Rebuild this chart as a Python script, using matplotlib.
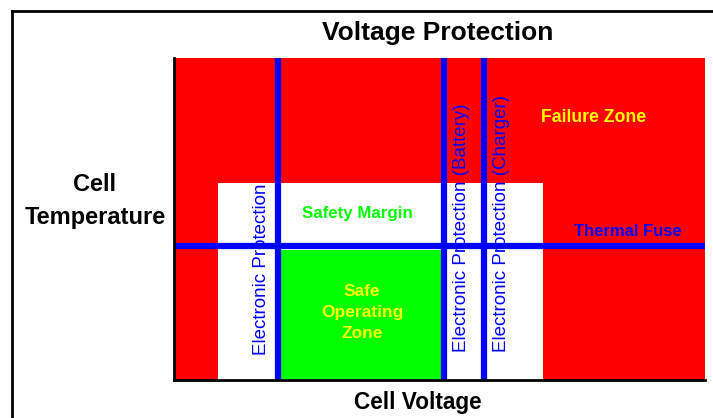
import matplotlib
matplotlib.use("Agg")
import matplotlib.pyplot as plt
from matplotlib.patches import Rectangle
from matplotlib.lines import Line2D

plt.rcParams['font.family'] = ['Liberation Sans', 'DejaVu Sans']

# Schematic zones on a relative (voltage, temperature) scale
v_range = (0, 531)
t_range = (0, 322)
# safety margin (white) zone: voltage from/to, temperature top
margin_v = (44, 369)
margin_t_top = 197
# safe operating (green) zone
safe_v = (107, 269)
safe_t_top = 130
# protection thresholds
protection_v = [104, 270, 310]
protection_labels = ["Electronic Protection",
                     "Electronic Protection (Battery)",
                     "Electronic Protection (Charger)"]
protection_label_t = [111, 152, 156]
thermal_fuse_t = 134

RED, GREEN, BLUE, YELLOW = "#ff0000", "#00ff00", "#0000ff", "#ffff00"

fig = plt.figure(figsize=(7.13, 4.18), dpi=100)
W, H = 713, 418
ax = fig.add_axes([174 / W, (H - 380) / H, 531 / W, 322 / H])
ax.set_xlim(*v_range)
ax.set_ylim(*t_range)
ax.set_facecolor(RED)

ax.add_patch(Rectangle((margin_v[0], 0), margin_v[1] - margin_v[0], margin_t_top,
                       facecolor="white", edgecolor="none", zorder=1))
ax.add_patch(Rectangle((safe_v[0], 0), safe_v[1] - safe_v[0], safe_t_top,
                       facecolor=GREEN, edgecolor="none", zorder=2))

for v in protection_v:
    ax.axvline(v, color=BLUE, lw=4.5, zorder=3)
ax.axhline(thermal_fuse_t, color=BLUE, lw=4.5, zorder=3)

for v, lab, t in zip(protection_v, protection_labels, protection_label_t):
    ax.text(v - 16 if v == protection_v[0] else v + 18, t, lab, rotation=90,
            ha="center", va="center", color=BLUE, fontsize=13.5, zorder=4)

ax.text((safe_v[0] + safe_v[1]) / 2 - 5, 167, "Safety Margin", color=GREEN,
        fontsize=12.2, fontweight="bold", ha="center", va="center", zorder=4)
ax.text((safe_v[0] + safe_v[1]) / 2, 68, "Safe\nOperating\nZone", color=YELLOW,
        fontsize=12.5, fontweight="bold", ha="center", va="center",
        linespacing=1.5, zorder=4)
ax.text(420, 263, "Failure Zone", color=YELLOW, fontsize=12.7, fontweight="bold",
        ha="center", va="center", zorder=4)
ax.text(454, 149, "Thermal Fuse", color=BLUE, fontsize=12, fontweight="bold",
        ha="center", va="center", zorder=4)

ax.set_xticks([])
ax.set_yticks([])
for s in ["top", "right"]:
    ax.spines[s].set_visible(False)
for s in ["left", "bottom"]:
    ax.spines[s].set_linewidth(2)
    ax.spines[s].set_color("black")
    ax.spines[s].set_zorder(5)

fig.text(438 / W, 1 - 33 / H, "Voltage Protection", fontsize=19, fontweight="bold",
         ha="center", va="center")
fig.text(95 / W, 1 - 201 / H, "Cell\nTemperature", fontsize=17, fontweight="bold",
         ha="center", va="center", linespacing=1.52)
fig.text(418 / W, 1 - 403 / H, "Cell Voltage", fontsize=16.3, fontweight="bold",
         ha="center", va="center")

# outer frame
fig.add_artist(Line2D([12 / W, 12 / W], [0, 1 - 11 / H], color="black", lw=2,
                      transform=fig.transFigure))
fig.add_artist(Line2D([12 / W, 1], [1 - 11 / H, 1 - 11 / H], color="black", lw=2,
                      transform=fig.transFigure))

fig.savefig("out.png", dpi=100)
